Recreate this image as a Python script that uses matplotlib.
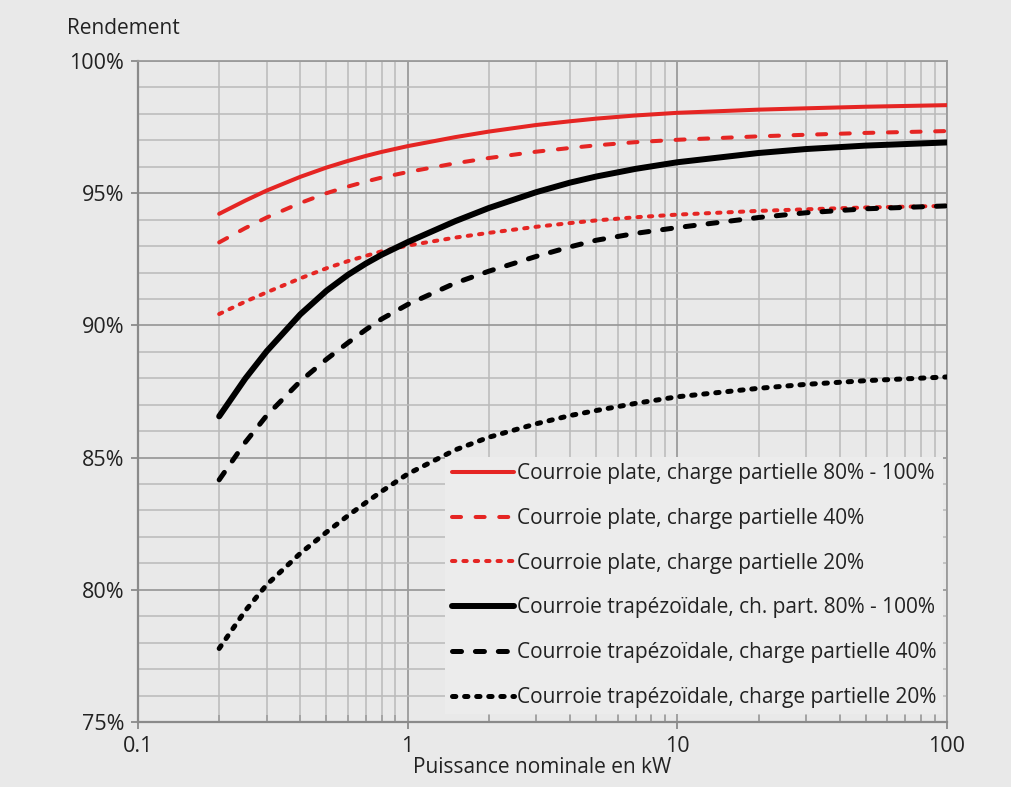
import numpy as np
import matplotlib.pyplot as plt
from matplotlib.ticker import FixedLocator, FuncFormatter, NullFormatter

# puissance nominale (kW) et rendement (%)
puissance = [0.2, 0.25, 0.3, 0.4, 0.5, 0.6, 0.7, 0.8, 1, 1.5, 2, 3, 4, 5, 7, 10, 20, 30, 50, 100]

plate_100 = [94.22, 94.72, 95.10, 95.62, 95.97, 96.22, 96.41, 96.56, 96.78, 97.12, 97.33, 97.58,
             97.72, 97.82, 97.94, 98.04, 98.16, 98.21, 98.27, 98.33]
plate_40 = [93.14, 93.68, 94.08, 94.63, 95.00, 95.25, 95.44, 95.59, 95.80, 96.13, 96.33, 96.57,
            96.71, 96.81, 96.93, 97.02, 97.15, 97.21, 97.28, 97.35]
plate_20 = [90.43, 90.90, 91.25, 91.78, 92.16, 92.43, 92.63, 92.80, 93.02, 93.32, 93.50, 93.73,
            93.87, 93.97, 94.09, 94.19, 94.33, 94.39, 94.46, 94.52]
trap_100 = [86.56, 87.99, 89.02, 90.42, 91.31, 91.91, 92.34, 92.67, 93.15, 93.94, 94.44, 95.04,
            95.40, 95.63, 95.92, 96.17, 96.52, 96.67, 96.80, 96.92]
trap_40 = [84.16, 85.58, 86.59, 87.89, 88.72, 89.34, 89.84, 90.24, 90.79, 91.60, 92.05, 92.61,
           92.97, 93.22, 93.48, 93.70, 94.08, 94.26, 94.41, 94.52]
trap_20 = [77.78, 79.21, 80.19, 81.38, 82.18, 82.80, 83.30, 83.72, 84.38, 85.29, 85.77, 86.28,
           86.59, 86.78, 87.05, 87.30, 87.62, 87.77, 87.91, 88.05]

labels = [
    'Courroie plate, charge partielle 80% - 100%',
    'Courroie plate, charge partielle 40%',
    'Courroie plate, charge partielle 20%',
    'Courroie trapézoïdale, ch. part. 80% - 100%',
    'Courroie trapézoïdale, charge partielle 40%',
    'Courroie trapézoïdale, charge partielle 20%',
]

ROUGE = '#e52523'
NOIR = '#000000'
FOND = '#e9e9e9'
TEXTE = '#222222'

plt.rcParams['font.family'] = ['Open Sans', 'DejaVu Sans']
plt.rcParams['lines.scale_dashes'] = False

fig = plt.figure(figsize=(10.11, 7.87), dpi=100, facecolor=FOND)
ax = fig.add_axes([0.1365, 0.0826, 0.8002, 0.8399])
ax.set_facecolor(FOND)

styles = [
    (plate_100, ROUGE, 2.9, None),
    (plate_40, ROUGE, 2.9, (6.5, 10.5)),
    (plate_20, ROUGE, 2.9, (2.4, 5.8)),
    (trap_100, NOIR, 4.3, None),
    (trap_40, NOIR, 3.6, (6.5, 10.0)),
    (trap_20, NOIR, 3.6, (2.4, 6.3)),
]

for (serie, couleur, lw, tirets), label in zip(styles, labels):
    line, = ax.plot(puissance, serie, color=couleur, lw=lw, label=label,
                    solid_capstyle='round', dash_capstyle='round',
                    solid_joinstyle='round', zorder=3)
    if tirets is not None:
        line.set_dashes(tirets)

ax.set_xscale('log')
ax.set_xlim(0.1, 100)
ax.set_ylim(75, 100)

ax.xaxis.set_major_locator(FixedLocator([0.1, 1, 10, 100]))
ax.xaxis.set_major_formatter(FuncFormatter(lambda v, p: f'{v:g}'))
mineurs_x = [m * d for d in (0.1, 1, 10) for m in range(2, 10)]
ax.xaxis.set_minor_locator(FixedLocator(mineurs_x))
ax.xaxis.set_minor_formatter(NullFormatter())

ax.yaxis.set_major_locator(FixedLocator(np.arange(75, 101, 5)))
ax.yaxis.set_major_formatter(FuncFormatter(lambda v, p: f'{v:.0f}%'))
ax.yaxis.set_minor_locator(FixedLocator([v for v in range(76, 100) if v % 5]))

ax.grid(which='major', color='#9b9b9b', lw=1.3, zorder=0)
ax.grid(which='minor', color='#bababa', lw=1.1, zorder=0)
ax.set_axisbelow(True)

for cote in ['left', 'bottom']:
    ax.spines[cote].set_color('#8a8a8a')
    ax.spines[cote].set_linewidth(1.6)
for cote in ['top', 'right']:
    ax.spines[cote].set_color('#9b9b9b')
    ax.spines[cote].set_linewidth(1.3)

ax.tick_params(axis='both', which='major', direction='out', length=5, width=1.3,
               color='#8a8a8a', labelsize=15.5, labelcolor=TEXTE, pad=5)
ax.tick_params(axis='x', which='minor', direction='in', length=5, width=1.1,
               color='#9b9b9b')
ax.tick_params(axis='y', which='minor', length=0)

ax.set_xlabel('Puissance nominale en kW', fontsize=15, color=TEXTE, labelpad=0)
fig.text(0.066, 0.964, 'Rendement', fontsize=15, color=TEXTE, va='center', ha='left')

leg = ax.legend(loc='lower right', bbox_to_anchor=(0.995, 0.012), fontsize=15,
                frameon=True, fancybox=False, facecolor='#ececec', edgecolor='none',
                framealpha=1, handlelength=3.0, handletextpad=0.15,
                labelspacing=1.14, borderpad=0.3, borderaxespad=0)
for t in leg.get_texts():
    t.set_color(TEXTE)
leg.set_zorder(2)

fig.savefig('out.png', dpi=100, facecolor=FOND)
